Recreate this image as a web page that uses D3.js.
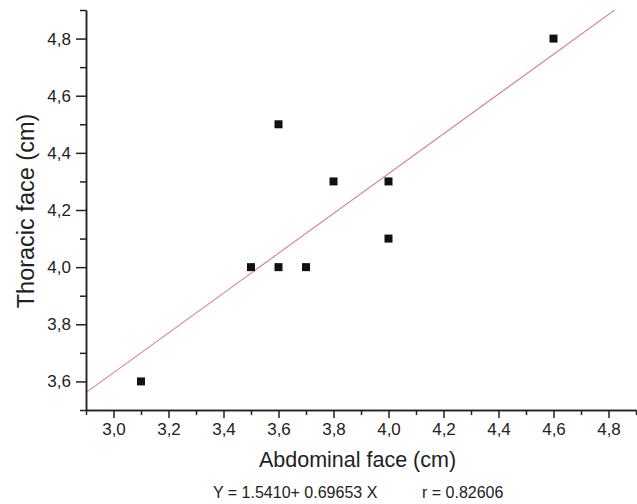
<!DOCTYPE html>
<html>
    <head>
        <title></title>
        <script src="https://d3js.org/d3.v7.min.js"></script>
    </head>

    <body style="margin:0; background:#fff">
        <svg id="scatter" width="637" height="504"></svg>
    </body>

    <script>

        // measured points
        var abdominal = [3.1, 3.5, 3.6, 3.7, 3.6, 3.8, 4.0, 4.0, 4.6]
        var thoracic  = [3.6, 4.0, 4.0, 4.0, 4.5, 4.3, 4.3, 4.1, 4.8]

        // fit printed under the chart
        var intercept = 1.5410
        var slope = 0.69653
        var fitText = "Y = 1.5410+ 0.69653 X"
        var rText = "r = 0.82606"

        // tick values and labels
        var xTicks = [3.0, 3.2, 3.4, 3.6, 3.8, 4.0, 4.2, 4.4, 4.6, 4.8]
        var xTickLabels = ["3,0", "3,2", "3,4", "3,6", "3,8", "4,0", "4,2", "4,4", "4,6", "4,8"]
        var xMinor = [2.9, 3.1, 3.3, 3.5, 3.7, 3.9, 4.1, 4.3, 4.5, 4.7, 4.9]
        var yTicks = [3.6, 3.8, 4.0, 4.2, 4.4, 4.6, 4.8]
        var yTickLabels = ["3,6", "3,8", "4,0", "4,2", "4,4", "4,6", "4,8"]
        var yMinor = [3.5, 3.7, 3.9, 4.1, 4.3, 4.5, 4.7, 4.9]

        var margin = { top: 10, bottom: 94, left: 86, right: 1 }
        var width = 637 - margin.left - margin.right
        var height = 504 - margin.top - margin.bottom
        var font = "Liberation Sans, Arial, sans-serif"

        var svg = d3.select("#scatter")
        .append("g")
        .attr("transform", "translate(" + margin.left + "," + margin.top + ")")

        var x = d3.scaleLinear()
        .domain([2.9, 4.9])
        .range([0, width])

        var y = d3.scaleLinear()
        .domain([3.5, 4.9])
        .range([height, 0])

        svg.append("clipPath")
        .attr("id", "clip")
        .append("rect")
        .attr("width", width)
        .attr("height", height)

        // regression line
        svg.append("line")
        .attr("clip-path", "url(#clip)")
        .attr("x1", x(2.9))
        .attr("y1", y(intercept + slope * 2.9))
        .attr("x2", x(4.9))
        .attr("y2", y(intercept + slope * 4.9))
        .attr("stroke", "#d58484")
        .attr("stroke-width", 1.1)

        // x axis, major then minor
        svg.append("g")
        .attr("transform", "translate(0," + height + ")")
        .call(d3.axisBottom(x)
            .tickValues(xTicks)
            .tickFormat(function(d, i) { return xTickLabels[i] })
            .tickSize(8)
            .tickSizeOuter(0)
            .tickPadding(5))
        svg.append("g")
        .attr("transform", "translate(0," + height + ")")
        .call(d3.axisBottom(x)
            .tickValues(xMinor)
            .tickFormat("")
            .tickSize(5)
            .tickSizeOuter(0))

        // y axis, major then minor
        svg.append("g")
        .call(d3.axisLeft(y)
            .tickValues(yTicks)
            .tickFormat(function(d, i) { return yTickLabels[i] })
            .tickSize(10)
            .tickSizeOuter(0)
            .tickPadding(5))
        svg.append("g")
        .call(d3.axisLeft(y)
            .tickValues(yMinor)
            .tickFormat("")
            .tickSize(6)
            .tickSizeOuter(0))

        svg.selectAll(".domain, .tick line")
        .attr("stroke", "#222")
        .attr("stroke-width", 1.5)
        svg.selectAll(".tick text")
        .attr("fill", "#222")
        .style("font-family", font)
        .style("font-size", "17px")

        // points
        svg.selectAll("rect.pt")
        .data(abdominal)
        .enter()
        .append("rect")
        .attr("class", "pt")
        .attr("x", function(d) { return x(d) - 4 })
        .attr("y", function(d, i) { return y(thoracic[i]) - 4 })
        .attr("width", 8)
        .attr("height", 8)
        .attr("fill", "#111")

        // axis titles
        svg.append("text")
        .attr("x", 357.5 - margin.left)
        .attr("y", height + 57)
        .attr("text-anchor", "middle")
        .attr("fill", "#222")
        .style("font-family", font)
        .style("font-size", "21.5px")
        .text("Abdominal face (cm)")

        svg.append("text")
        .attr("transform", "translate(-52," + (height / 2 + 1) + ") rotate(-90)")
        .attr("text-anchor", "middle")
        .attr("fill", "#222")
        .style("font-family", font)
        .style("font-size", "23.5px")
        .text("Thoracic face (cm)")

        // fit equation
        svg.append("text")
        .attr("x", 213 - margin.left)
        .attr("y", height + 88)
        .attr("fill", "#222")
        .style("font-family", font)
        .style("font-size", "16px")
        .text(fitText)

        svg.append("text")
        .attr("x", 422 - margin.left)
        .attr("y", height + 88)
        .attr("fill", "#222")
        .style("font-family", font)
        .style("font-size", "16px")
        .text(rText)

    </script>
</html>
